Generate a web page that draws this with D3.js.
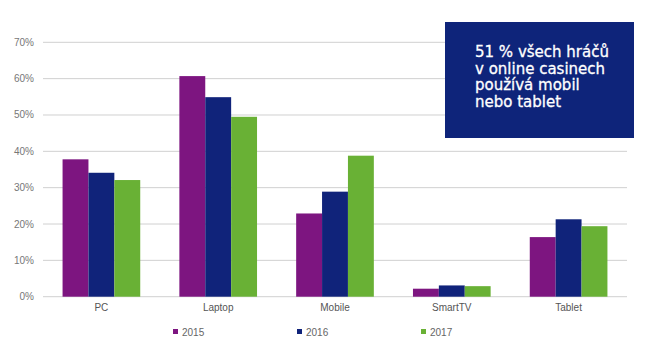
<!DOCTYPE html>
<html>
<head>
<meta charset="utf-8">
<script src="https://cdn.jsdelivr.net/npm/d3@7"></script>
<style>
  body { margin: 0; background: #fff; }
  svg { display: block; }
</style>
</head>
<body>
<svg id="chart" width="664" height="351"></svg>
<script>
// data
const categories = ["PC", "Laptop", "Mobile", "SmartTV", "Tablet"];
const years = ["2015", "2016", "2017"];
const values2015 = [37.8, 60.7, 22.9, 2.2, 16.4];
const values2016 = [34.1, 54.9, 28.9, 3.1, 21.3];
const values2017 = [32.1, 49.5, 38.8, 2.9, 19.4];
const yTicks = [0, 10, 20, 30, 40, 50, 60, 70];
const noteLines = ["51 % všech hráčů", "v online casinech", "používá mobil", "nebo tablet"];

const series = [values2015, values2016, values2017];
const colors = ["#7d1580", "#10237a", "#69b135"];

const svg = d3.select("#chart");
const plotLeft = 43, plotRight = 627, plotTop = 42.3, plotBottom = 296.7;

const y = d3.scaleLinear().domain([0, 70]).range([plotBottom, plotTop]);
const x0 = d3.scaleBand().domain(categories).range([plotLeft, plotRight])
    .paddingInner(0.335).paddingOuter(0.1675);
const x1 = d3.scaleBand().domain(years).range([0, x0.bandwidth()]);

// grid + y labels
const grid = svg.append("g");
grid.selectAll("line").data(yTicks).join("line")
    .attr("x1", plotLeft).attr("x2", plotRight)
    .attr("y1", d => y(d)).attr("y2", d => y(d))
    .attr("stroke", "#d0d0d0").attr("stroke-width", 1);
grid.selectAll("text").data(yTicks).join("text")
    .attr("x", 34).attr("y", d => y(d)).attr("dy", "0.35em")
    .attr("text-anchor", "end")
    .attr("font-family", "Liberation Sans, Arial, sans-serif")
    .attr("font-size", 10).attr("fill", "#777")
    .text(d => d + "%");

// bars
const groups = svg.append("g").selectAll("g").data(categories).join("g")
    .attr("transform", c => `translate(${x0(c)},0)`);
groups.selectAll("rect")
    .data((c, i) => years.map((yr, j) => ({ yr, v: series[j][i], j })))
    .join("rect")
    .attr("x", d => x1(d.yr))
    .attr("width", x1.bandwidth())
    .attr("y", d => y(d.v))
    .attr("height", d => y(0) - y(d.v))
    .attr("fill", d => colors[d.j]);

// category labels
svg.append("g").selectAll("text").data(categories).join("text")
    .attr("x", c => x0(c) + x0.bandwidth() / 2).attr("y", 311)
    .attr("text-anchor", "middle")
    .attr("font-family", "Liberation Sans, Arial, sans-serif")
    .attr("font-size", 10).attr("fill", "#555")
    .text(c => c);

// legend
const legend = svg.append("g").selectAll("g").data(years).join("g")
    .attr("transform", (d, i) => `translate(${173 + i * 124},332)`);
legend.append("rect").attr("x", 0).attr("y", -3).attr("width", 5).attr("height", 5)
    .attr("fill", (d, i) => colors[i]);
legend.append("text").attr("x", 9).attr("y", 0).attr("dy", "0.35em")
    .attr("font-family", "Liberation Sans, Arial, sans-serif")
    .attr("font-size", 10).attr("fill", "#666")
    .text(d => d);

// note box
svg.append("rect").attr("x", 445).attr("y", 22).attr("width", 189).attr("height", 116)
    .attr("fill", "#0e247a");
svg.append("g").selectAll("text").data(noteLines).join("text")
    .attr("x", 475).attr("y", (d, i) => 57 + i * 16.7)
    .attr("font-family", "DejaVu Sans, Verdana, sans-serif")
    .attr("font-size", 15).attr("fill", "#fff")
    .attr("stroke", "#fff").attr("stroke-width", 0.3)
    .text(d => d);
</script>
</body>
</html>
